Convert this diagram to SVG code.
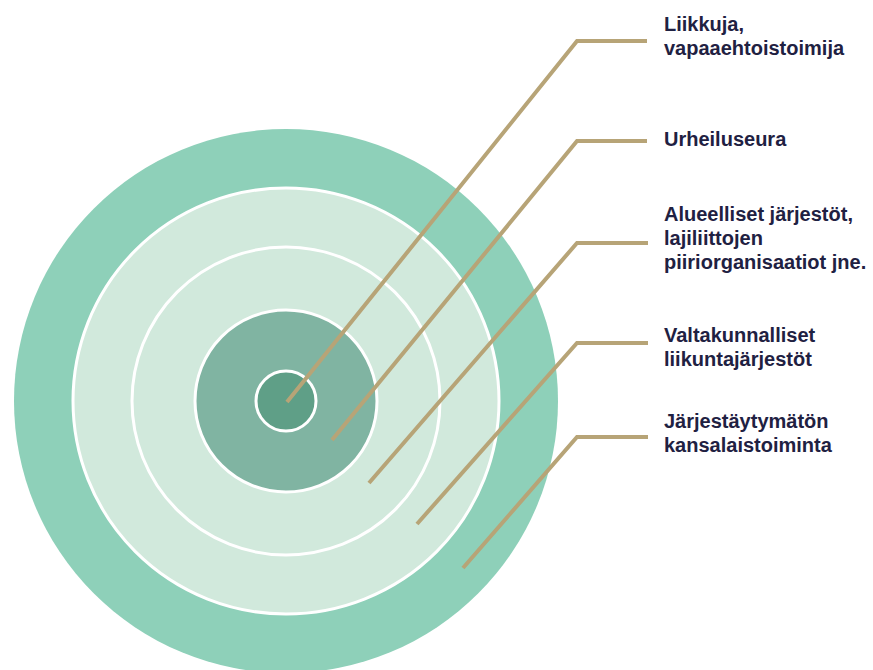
<svg xmlns="http://www.w3.org/2000/svg" width="873" height="670" viewBox="0 0 873 670">
<style>
.ring{stroke:#ffffff;stroke-width:3}
.conn{fill:none;stroke:#b7a477;stroke-width:4;stroke-linejoin:miter}
.lbl{font-family:"Liberation Sans",Arial,sans-serif;font-weight:bold;font-size:20px;fill:#1f2142}
</style>
<rect width="873" height="670" fill="#ffffff"/>
<g id="ring-kansalaistoiminta"><circle cx="286" cy="401" r="272" fill="#8ed0b9"/></g>
<g id="ring-valtakunnalliset"><circle class="ring" cx="286" cy="401" r="213" fill="#d1e9dc"/></g>
<g id="ring-alueelliset"><circle class="ring" cx="286" cy="401" r="154" fill="#d1e9dc"/></g>
<g id="ring-urheiluseura"><circle class="ring" cx="286" cy="401" r="91" fill="#80b4a2"/></g>
<g id="ring-liikkuja"><circle class="ring" cx="286" cy="401" r="30" fill="#5f9f87"/></g>
<g id="connectors">
<polyline class="conn" points="287,402 577,41 647,41"/>
<polyline class="conn" points="332,440 577,141 647,141"/>
<polyline class="conn" points="369,483 577,243 648,243"/>
<polyline class="conn" points="417,524 577,343 648,343"/>
<polyline class="conn" points="463,568 577,437 648,437"/>
</g>
<g id="label-liikkuja"><text class="lbl" x="664" y="31">Liikkuja,</text><text class="lbl" x="664" y="55">vapaaehtoistoimija</text></g>
<g id="label-urheiluseura"><text class="lbl" x="664" y="146">Urheiluseura</text></g>
<g id="label-alueelliset"><text class="lbl" x="664" y="221">Alueelliset järjestöt,</text><text class="lbl" x="664" y="245">lajiliittojen</text><text class="lbl" x="664" y="269">piiriorganisaatiot jne.</text></g>
<g id="label-valtakunnalliset"><text class="lbl" x="664" y="342">Valtakunnalliset</text><text class="lbl" x="664" y="366">liikuntajärjestöt</text></g>
<g id="label-kansalaistoiminta"><text class="lbl" x="664" y="428">Järjestäytymätön</text><text class="lbl" x="664" y="452">kansalaistoiminta</text></g>
</svg>
